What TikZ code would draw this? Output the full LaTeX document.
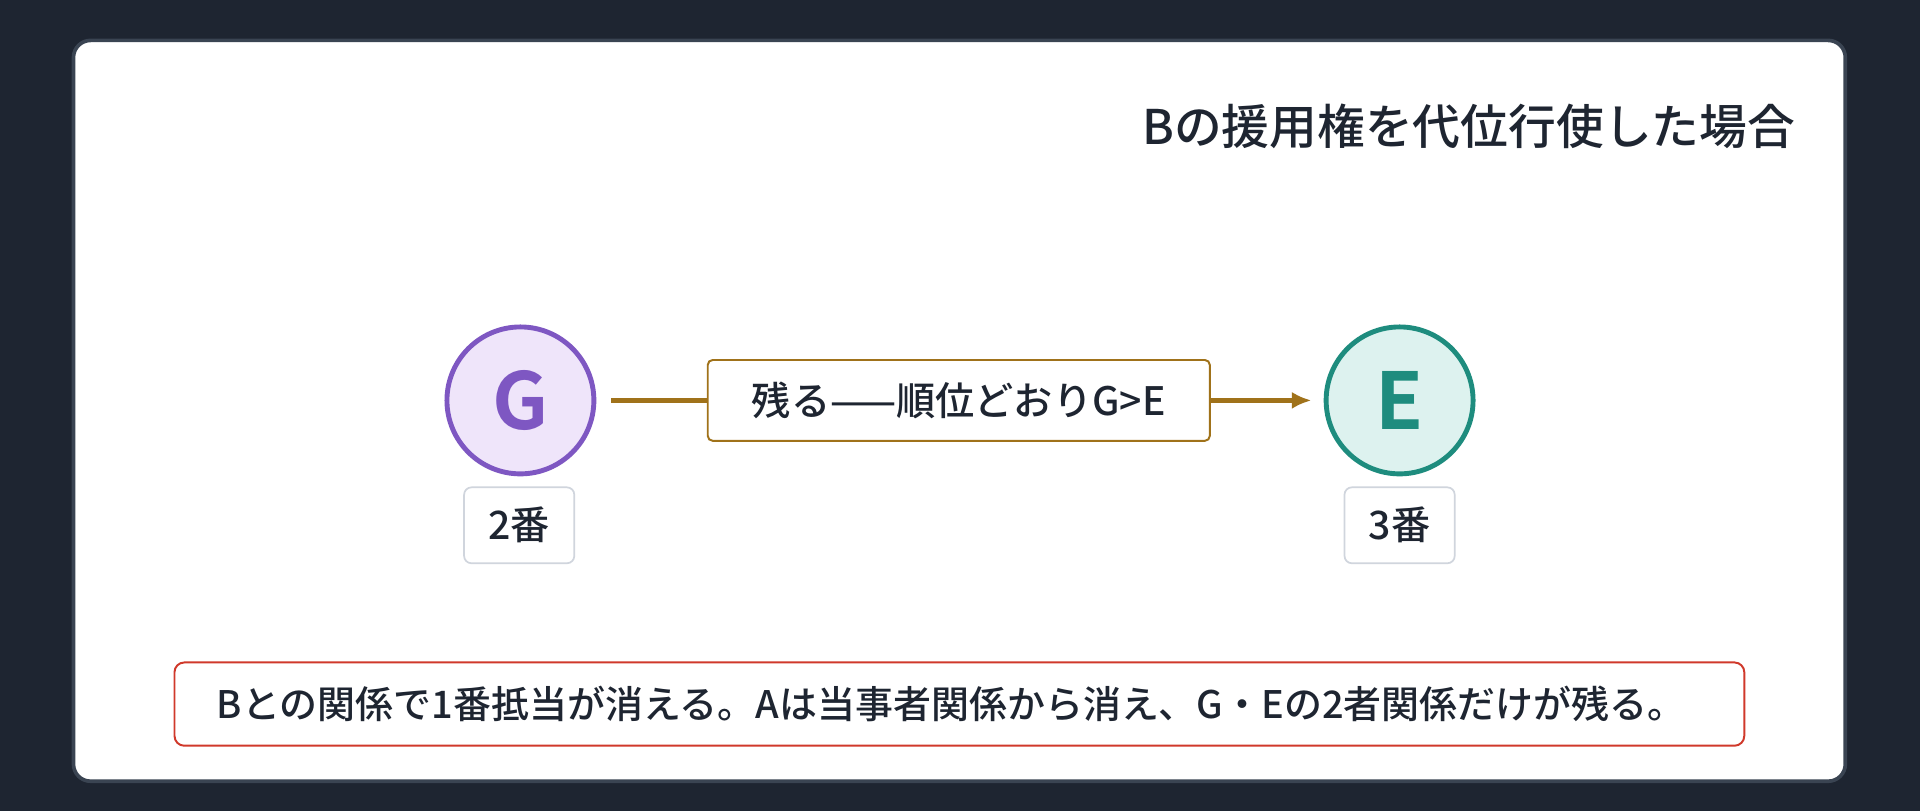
\documentclass[tikz,border=0pt]{standalone}
\usepackage{fontspec}
\setmainfont{Noto Sans CJK JP}[UprightFont=* Medium,BoldFont=* Bold]
\usetikzlibrary{arrows.meta}
\definecolor{bg}{HTML}{1E2531}
\definecolor{cardb}{HTML}{3A4452}
\definecolor{ink}{HTML}{1E2531}
\definecolor{gfill}{HTML}{EFE5FA}
\definecolor{gline}{HTML}{7E57C2}
\definecolor{efill}{HTML}{DDF2EF}
\definecolor{eline}{HTML}{1E8C7E}
\definecolor{arr}{HTML}{A0721A}
\definecolor{tagb}{HTML}{D0D5DD}
\definecolor{redb}{HTML}{D0392B}
\begin{document}
\begin{tikzpicture}[x=0.5pt,y=-0.5pt,
 party/.style={circle,minimum size=60pt,line width=2pt,inner sep=0pt,font=\fontsize{32}{32}\bfseries},
 tag/.style={draw=tagb,line width=0.7pt,rounded corners=3pt,fill=white,minimum width=45pt,minimum height=31pt,font=\fontsize{16}{16}\selectfont,text=ink},
 lbl/.style={draw=arr,line width=0.8pt,rounded corners=2pt,fill=white,minimum width=205pt,minimum height=33pt,font=\fontsize{16}{16}\selectfont,text=ink}]
\useasboundingbox (0,0) rectangle (1568,662);
\fill[bg] (0,0) rectangle (1568,662);
\draw[cardb,line width=1.5pt,fill=white,rounded corners=7pt] (60,33) rectangle (1507,638);
\node[anchor=east,text=ink,font=\fontsize{19.5}{19.5}\selectfont] (title) at (1473,103) {Bの援用権を代位行使した場合};
\node[party,draw=gline,fill=gfill,text=gline] (G) at (425,327) {G};
\node[party,draw=eline,fill=efill,text=eline] (E) at (1143,327) {E};
\node[tag] (g2) at (424,429) {2番};
\node[tag] (e3) at (1143,429) {3番};
\draw[arr,line width=2pt,-{Latex[length=8pt,width=7pt]},shorten <=6pt,shorten >=5pt] (G) -- (E);
\node[lbl] (rel) at (783,327) {残る——順位どおりG>E};
\node[draw=redb,line width=0.8pt,rounded corners=4pt,fill=white,minimum width=641pt,minimum height=34pt] (note) at (783.5,575) {};
\node[anchor=west,text=ink,font=\fontsize{15.5}{15.5}\selectfont] (notet) at (170,575) {Bとの関係で1番抵当が消える。Aは当事者関係から消え、G・Eの2者関係だけが残る。};
\end{tikzpicture}
\end{document}
